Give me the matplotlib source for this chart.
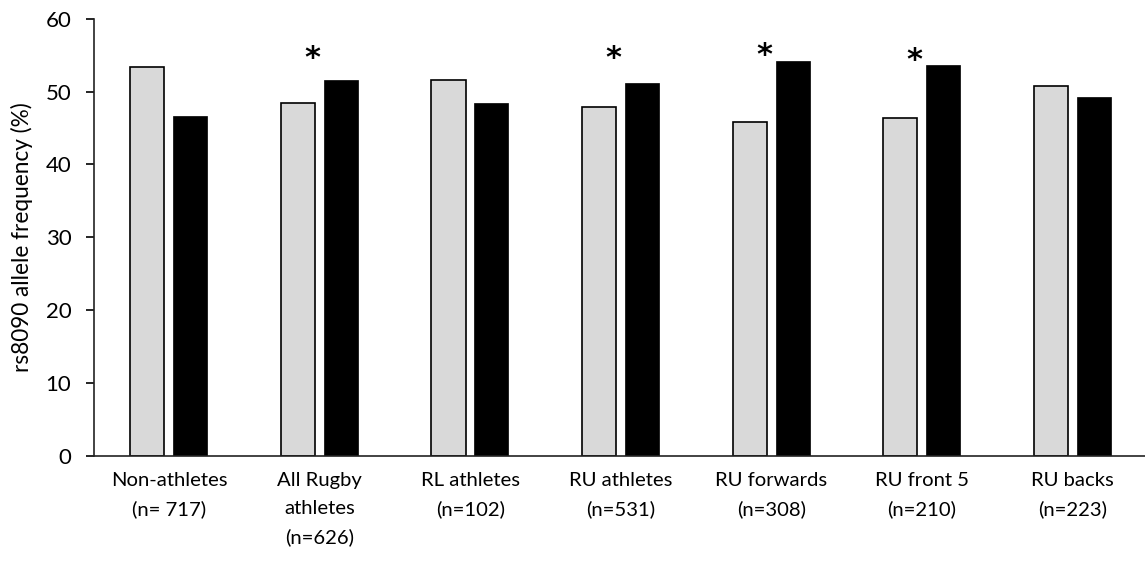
import matplotlib
matplotlib.use('Agg')
import matplotlib.pyplot as plt
import numpy as np

plt.rcParams['font.family'] = ['Lato', 'DejaVu Sans']

GREY_COLOR = '#d9d9d9'  # 灰色柱
BLACK_COLOR = '#000000'  # 黑色柱

categories = ['Non-athletes\n(n= 717)', 'All Rugby\nathletes\n(n=626)', 'RL athletes\n(n=102)',
              'RU athletes\n(n=531)', 'RU forwards\n(n=308)', 'RU front 5\n(n=210)', 'RU backs\n(n=223)']
grey_values = [53.4, 48.4, 51.6, 47.9, 45.8, 46.4, 50.8]
black_values = [46.6, 51.6, 48.4, 51.2, 54.2, 53.6, 49.3]
significant = [False, True, False, True, True, True, False]
star_heights = [None, 54.6, None, 54.6, 55.0, 54.3, None]  # 星号高度

fig = plt.figure(figsize=(11.45, 5.63), dpi=100)
ax = fig.add_axes([0.0818, 0.1906, 0.9208, 0.7762])

x = np.arange(len(categories))
bar_width = 0.226
ax.bar(x - 0.144, grey_values, bar_width, color=GREY_COLOR, edgecolor='black', linewidth=1.2)
ax.bar(x + 0.14, black_values, bar_width, color=BLACK_COLOR, edgecolor='black', linewidth=0.5)

for i, sig in enumerate(significant):
    if sig:
        ax.text(x[i] - 0.05, star_heights[i], '*', ha='center', va='center', fontsize=22,
                fontweight='bold', family='DejaVu Sans')

ax.set_xlim(-0.5, len(categories) - 0.5)
ax.set_ylim(0, 60)
ax.set_yticks(range(0, 61, 10))
ax.set_xticks(x)
ax.set_xticklabels(categories, fontsize=14.6, linespacing=1.75, va='top')
ax.tick_params(axis='x', length=0, pad=12)
ax.tick_params(axis='y', labelsize=16, length=6, width=1.2, pad=10)
ax.set_ylabel('rs8090 allele frequency (%)', fontsize=16.3, labelpad=9)

ax.spines['top'].set_visible(False)
ax.spines['right'].set_visible(False)
for side in ['left', 'bottom']:
    ax.spines[side].set_linewidth(1.2)
    ax.spines[side].set_color('#222222')

fig.savefig('out.png', dpi=100)
